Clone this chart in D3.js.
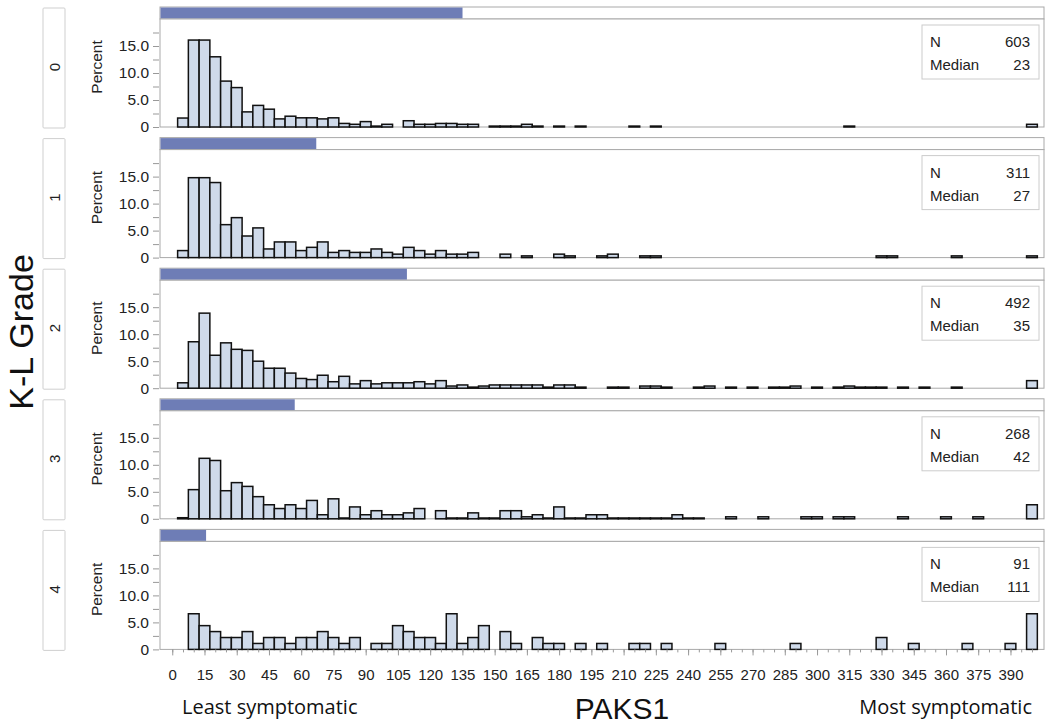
<!DOCTYPE html>
<html>
<head>
<meta charset="utf-8">
<script src="https://cdn.jsdelivr.net/npm/d3@7"></script>
<style>
  html, body { margin: 0; padding: 0; background: #fff; }
  svg { display: block; }
</style>
</head>
<body>
<svg id="chart" width="1050" height="727"></svg>
<script>
// ---------------- DATA ----------------
const grades = ["0", "1", "2", "3", "4"];
const gradeN = [603, 311, 492, 268, 91];
const gradeMedian = [23, 27, 35, 42, 111];

// bin midpoints of PAKS1 (bin width 5)
const binMids = [5,10,15,20,25,30,35,40,45,50,55,60,65,70,75,80,85,90,95,100,
  105,110,115,120,125,130,135,140,145,150,155,160,165,170,175,180,185,190,195,200,
  205,210,215,220,225,230,235,240,245,250,255,260,265,270,275,280,285,290,295,300,
  305,310,315,320,325,330,335,340,345,350,355,360,365,370,375,380,385,390,395,400];

// percent per bin, one array per K-L grade
const pct0 = [1.66,16.1,16.1,13.0,8.5,7.3,2.8,4.0,3.3,1.5,
  2.0,1.7,1.7,1.5,1.7,0.66,0.5,1.0,0.17,0.5,
  0,1.16,0.5,0.5,0.66,0.66,0.5,0.5,0,0.17,
  0.17,0.17,0.5,0.17,0,0.17,0,0.17,0,0,
  0,0,0.17,0,0.17,0,0,0,0,0,
  0,0,0,0,0,0,0,0,0,0,
  0,0,0.17,0,0,0,0,0,0,0,
  0,0,0,0,0,0,0,0,0,0.5];
const pct1 = [1.3,14.8,14.8,13.9,6.1,7.4,4.0,5.5,1.6,2.9,
  2.9,1.3,1.9,2.9,0.96,1.3,0.96,0.96,1.6,0.96,
  0.64,1.9,1.3,0.64,1.3,0.64,0.64,0.96,0,0,
  0.64,0,0.32,0,0,0.64,0.32,0,0,0.32,
  0.64,0,0,0.32,0.32,0,0,0,0,0,
  0,0,0,0,0,0,0,0,0,0,
  0,0,0,0,0,0.32,0.32,0,0,0,
  0,0,0.32,0,0,0,0,0,0,0.32];
const pct2 = [1.0,8.6,13.9,6.1,8.4,7.2,7.0,5.0,3.7,3.7,
  2.8,1.8,1.6,2.4,1.2,2.2,0.8,1.4,0.8,1.0,
  1.0,1.0,1.2,0.8,1.4,0.4,0.6,0.2,0.4,0.6,
  0.6,0.6,0.6,0.6,0.2,0.6,0.6,0.2,0,0,
  0.2,0.2,0,0.4,0.4,0.2,0,0,0.2,0.4,
  0,0.2,0,0.2,0,0.2,0.2,0.4,0,0.2,
  0,0.2,0.4,0.2,0.2,0.2,0,0.2,0,0.2,
  0,0,0.2,0,0,0,0,0,0,1.4];
const pct3 = [0.2,5.4,11.2,10.8,5.2,6.7,6.0,4.1,2.6,1.9,
  2.6,1.9,3.4,0.75,3.7,0.15,2.2,0.75,1.5,0.75,
  0.75,1.1,1.9,0,1.5,0.15,0.15,1.1,0.15,0.15,
  1.5,1.5,0.37,0.75,0.15,2.2,0.15,0.15,0.75,0.75,
  0.15,0.15,0.15,0.15,0.15,0.15,0.75,0.15,0.15,0,
  0,0.37,0,0,0.37,0,0,0,0.37,0.37,
  0,0.37,0.37,0,0,0,0,0.37,0,0,
  0,0.37,0,0,0.37,0,0,0,0,2.6];
const pct4 = [0,6.6,4.4,3.3,2.2,2.2,3.3,1.1,2.2,2.2,
  1.1,2.2,2.2,3.3,2.2,1.1,2.2,0,1.1,1.1,
  4.4,3.3,2.2,2.2,1.1,6.6,1.1,2.2,4.4,0,
  3.3,1.1,0,2.2,1.1,1.1,0,1.1,0,1.1,
  0,0,1.1,1.1,0,1.1,0,0,0,0,
  1.1,0,0,0,0,0,0,1.1,0,0,
  0,0,0,0,0,2.2,0,0,1.1,0,
  0,0,0,1.1,0,0,0,1.1,0,6.6];
const series = [pct0, pct1, pct2, pct3, pct4];

const yTickLabels = ["0", "5.0", "10.0", "15.0"];
const yTickValues = [0, 5, 10, 15];
const yMinorTicks = [2.5, 7.5, 12.5, 17.5];
const xTickValues = [0,15,30,45,60,75,90,105,120,135,150,165,180,195,210,225,240,255,270,285,300,315,330,345,360,375,390];

// ---------------- LAYOUT ----------------
const svg = d3.select("#chart");
const font = "'Liberation Sans', Arial, sans-serif";
const titleFont = "'Open Sans', 'Liberation Sans', sans-serif";
const plotL = 160, plotR = 1044;
const binW = 5;
const x = d3.scaleLinear().domain([-5.7, 405.6]).range([plotL, plotR]);
const baseline0 = 127, step = 130.6;
const plotH = 108, stripH = 12;
const totalN = d3.sum(gradeN);

grades.forEach((g, i) => {
  const base = baseline0 + step * i;
  const top = base - plotH;
  const stripTop = top - stripH;
  const y = d3.scaleLinear().domain([0, 20]).range([base, top]);
  const gp = svg.append("g");

  // facet label box
  gp.append("rect").attr("x", 43).attr("y", stripTop + 1).attr("width", 22).attr("height", base - stripTop)
    .attr("fill", "#fff").attr("stroke", "#cfcfcf").attr("stroke-width", 1).attr("rx", 1);
  gp.append("text").attr("transform", `translate(${60},${(stripTop + base) / 2}) rotate(-90)`)
    .attr("text-anchor", "middle").attr("font-family", font).attr("font-size", 15).attr("fill", "#222")
    .text(g);

  // strip with proportion bar
  gp.append("rect").attr("x", plotL).attr("y", stripTop).attr("width", plotR - plotL).attr("height", stripH)
    .attr("fill", "#fff").attr("stroke", "#a9a9a9");
  gp.append("rect").attr("x", plotL + 0.5).attr("y", stripTop + 0.5)
    .attr("width", (plotR - plotL) * gradeN[i] / totalN).attr("height", stripH - 1)
    .attr("fill", "#6e7db6");

  // plot frame
  gp.append("rect").attr("x", plotL).attr("y", top).attr("width", plotR - plotL).attr("height", plotH)
    .attr("fill", "#fff").attr("stroke", "#a9a9a9");

  // bars
  const data = binMids.map((m, k) => ({ m, v: series[i][k] })).filter(d => d.v > 0);
  gp.append("g").selectAll("rect").data(data).join("rect")
    .attr("x", d => x(d.m - binW / 2))
    .attr("width", d => x(d.m + binW / 2) - x(d.m - binW / 2))
    .attr("y", d => y(d.v))
    .attr("height", d => base - y(d.v))
    .attr("fill", "#cfdaea").attr("stroke", "#111").attr("stroke-width", 1.5);

  // y axis
  const yAxis = d3.axisLeft(y).tickValues(yTickValues).tickFormat((d, k) => yTickLabels[k]).tickSize(6).tickPadding(4);
  const ya = gp.append("g").attr("transform", `translate(${plotL - 1},0)`).call(yAxis);
  ya.select(".domain").remove();
  ya.selectAll("line").attr("stroke", "#999");
  ya.selectAll("text").attr("font-family", font).attr("font-size", 15.5).attr("fill", "#222");
  const yMin = d3.axisLeft(y).tickValues(yMinorTicks).tickSize(6).tickFormat("");
  const ym = gp.append("g").attr("transform", `translate(${plotL - 1},0)`).call(yMin);
  ym.select(".domain").remove();
  ym.selectAll("line").attr("stroke", "#999");

  gp.append("text").attr("transform", `translate(${102},${base - 60}) rotate(-90)`)
    .attr("text-anchor", "middle").attr("font-family", font).attr("font-size", 15.5).attr("fill", "#222")
    .text("Percent");

  // inset stats box
  const bx = 922, by = top + 6;
  const tf = 15;
  gp.append("rect").attr("x", bx).attr("y", by).attr("width", 117).attr("height", 54)
    .attr("fill", "#fff").attr("stroke", "#cccccc");
  gp.append("text").attr("x", bx + 8).attr("y", by + 22).attr("font-family", font).attr("font-size", tf).attr("fill", "#222").text("N");
  gp.append("text").attr("x", bx + 108).attr("y", by + 22).attr("text-anchor", "end").attr("font-family", font).attr("font-size", tf).attr("fill", "#222").text(gradeN[i]);
  gp.append("text").attr("x", bx + 8).attr("y", by + 45).attr("font-family", font).attr("font-size", tf).attr("fill", "#222").text("Median");
  gp.append("text").attr("x", bx + 108).attr("y", by + 45).attr("text-anchor", "end").attr("font-family", font).attr("font-size", tf).attr("fill", "#222").text(gradeMedian[i]);

  // x axis on last panel
  if (i === grades.length - 1) {
    const xMinor = d3.axisBottom(x).tickValues(d3.range(0, 405, 5)).tickSize(3).tickFormat("");
    const xm = gp.append("g").attr("transform", `translate(0,${base})`).call(xMinor);
    xm.select(".domain").remove();
    xm.selectAll("line").attr("stroke", "#999");
    const xAxis = d3.axisBottom(x).tickValues(xTickValues).tickSize(6).tickPadding(14);
    const xa = gp.append("g").attr("transform", `translate(0,${base})`).call(xAxis);
    xa.select(".domain").remove();
    xa.selectAll("line").attr("stroke", "#999");
    xa.selectAll("text").attr("font-family", font).attr("font-size", 15).attr("fill", "#222");
  }
});

// titles
svg.append("text").attr("transform", "translate(33,332) rotate(-90)").attr("text-anchor", "middle")
  .attr("font-family", font).attr("font-size", 34).attr("fill", "#111").text("K-L Grade");
svg.append("text").attr("x", 622).attr("y", 719).attr("text-anchor", "middle")
  .attr("font-family", font).attr("font-size", 30).attr("fill", "#111").text("PAKS1");
svg.append("text").attr("x", 182).attr("y", 714)
  .attr("font-family", titleFont).attr("font-size", 20).attr("fill", "#111").text("Least symptomatic");
svg.append("text").attr("x", 1032).attr("y", 714).attr("text-anchor", "end")
  .attr("font-family", titleFont).attr("font-size", 20).attr("fill", "#111").text("Most symptomatic");
</script>
</body>
</html>
